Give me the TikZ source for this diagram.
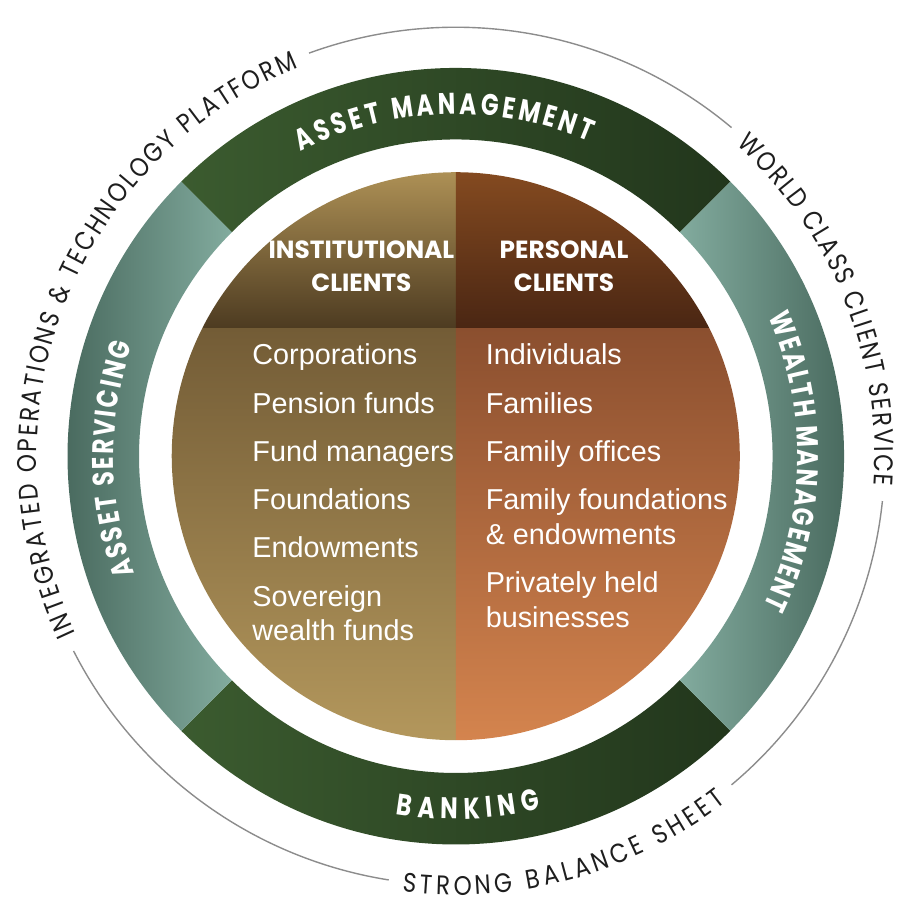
\documentclass[tikz,border=0pt]{standalone}
\usepackage{fontspec}
\setmainfont{Liberation Sans}
\newfontfamily\capsfont{Poppins}[FakeStretch=0.86]
\newfontfamily\ringfont{Poppins}[FakeStretch=0.78]
\newfontfamily\headfont{Poppins}
\usetikzlibrary{decorations.text}

\definecolor{greenlite}{HTML}{3B5B2F}
\definecolor{greendark}{HTML}{22361C}
\definecolor{tealdark}{HTML}{3D5C51}
\definecolor{teallite}{HTML}{82AB9E}
\definecolor{insttop}{HTML}{AD9055}
\definecolor{instmid}{HTML}{4D3B21}
\definecolor{instbody}{HTML}{735C36}
\definecolor{instlow}{HTML}{B3975C}
\definecolor{perstop}{HTML}{844A20}
\definecolor{persmid}{HTML}{4A2613}
\definecolor{persbody}{HTML}{8B4F2F}
\definecolor{perslow}{HTML}{D4844E}
\definecolor{rimgray}{HTML}{8C8C8C}
\definecolor{rimink}{HTML}{1E1E1E}

\tikzset{
  ringtext/.style={decorate, decoration={text along path, text align=fit to path, text color=white,
      text={|\ringfont\bfseries\fontsize{30}{30}\selectfont|#1}}},
  rimtext/.style={decorate, decoration={text along path, text align=fit to path, text color=rimink,
      text={|\capsfont\fontsize{27}{27}\selectfont|#1}}},
  rimline/.style={rimgray, line width=1.4pt},
  clienthead/.style={text=white, align=center, inner sep=0pt, font=\headfont\bfseries\fontsize{25}{33}\selectfont},
  clientlist/.style={anchor=base west, text=white, align=left, inner sep=0pt, font=\fontsize{29}{35}\selectfont},
}

\begin{document}
\begin{tikzpicture}[x=1pt, y=1pt]
\fill[white] (-459,-460) rectangle (454,449);

% thin rim with its three texts
\draw[rimline] (110:432) arc[start angle=110, end angle=50, radius=432];
\draw[rimline] (-6:432) arc[start angle=-6, end angle=-50, radius=432];
\draw[rimline] (261:432) arc[start angle=261, end angle=207, radius=432];
\path[rimtext={INTEGRATED OPERATIONS {\&} TECHNOLOGY PLATFORM}] (205:422) arc[start angle=205, end angle=112, radius=422];
\path[rimtext={WORLD CLASS CLIENT SERVICE}] (48:422) arc[start angle=48, end angle=-4, radius=422];
\path[rimtext={STRONG BALANCE SHEET}] (263:442) arc[start angle=263, end angle=308, radius=442];

% ring of four businesses
\shade[left color=greenlite, right color=greendark] (45:391) arc[start angle=45, end angle=135, radius=391] -- (135:319) arc[start angle=135, end angle=45, radius=319] -- cycle;
\shade[left color=greenlite, right color=greendark] (225:391) arc[start angle=225, end angle=315, radius=391] -- (315:319) arc[start angle=315, end angle=225, radius=319] -- cycle;
\shade[left color=tealdark, right color=teallite] (135:391) arc[start angle=135, end angle=225, radius=391] -- (225:319) arc[start angle=225, end angle=135, radius=319] -- cycle;
\shade[left color=teallite, right color=tealdark] (-45:391) arc[start angle=-45, end angle=45, radius=391] -- (45:319) arc[start angle=45, end angle=-45, radius=319] -- cycle;
\path[ringtext={ASSET MANAGEMENT}] (117:344.5) arc[start angle=117, end angle=67, radius=344.5];
\path[ringtext={BANKING}] (260.5:365.5) arc[start angle=260.5, end angle=283.5, radius=365.5];
\path[ringtext={ASSET SERVICING}] (200:344.5) arc[start angle=200, end angle=161, radius=344.5];
\path[ringtext={WEALTH MANAGEMENT}] (24:344.5) arc[start angle=24, end angle=-26, radius=344.5];

% client circle
\shade[top color=insttop, bottom color=instmid] (0,286) arc[start angle=90, end angle=153.2, radius=286] -- (0,129) -- cycle;
\shade[top color=perstop, bottom color=persmid] (0,129) -- (26.8:286) arc[start angle=26.8, end angle=90, radius=286] -- cycle;
\shade[top color=instbody, bottom color=instlow] (0,129) -- (153.2:286) arc[start angle=153.2, end angle=270, radius=286] -- cycle;
\shade[top color=persbody, bottom color=perslow] (0,-286) arc[start angle=270, end angle=386.8, radius=286] -- (0,129) -- cycle;

\node[clienthead] (insthead) at (-95,191.5) {INSTITUTIONAL\\CLIENTS};
\node[clienthead] (pershead) at (109,191.5) {PERSONAL\\CLIENTS};

\node[clientlist] (corp) at (-205,92) {Corporations};
\node[clientlist] (pension) at (-205,43) {Pension funds};
\node[clientlist] (fundmgr) at (-205,-5) {Fund managers};
\node[clientlist] (found) at (-205,-54) {Foundations};
\node[clientlist] (endow) at (-205,-102) {Endowments};
\node[clientlist] (sovereign) at (-205,-186) {Sovereign\\wealth funds};

\node[clientlist] (indiv) at (30,92) {Individuals};
\node[clientlist] (families) at (30,43) {Families};
\node[clientlist] (offices) at (30,-5) {Family offices};
\node[clientlist] (famfound) at (30,-89) {Family foundations\\\& endowments};
\node[clientlist] (private) at (30,-172) {Privately held\\businesses};
\end{tikzpicture}
\end{document}
